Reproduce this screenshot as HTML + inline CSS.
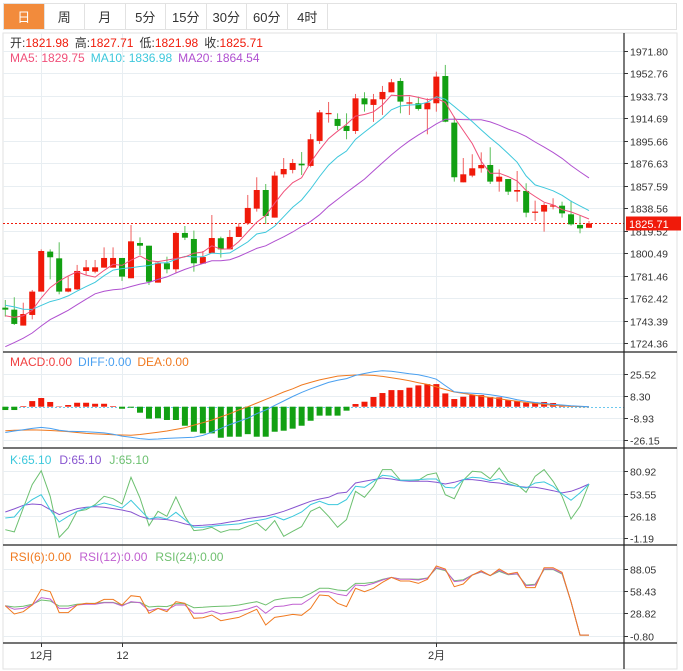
<!DOCTYPE html>
<html><head><meta charset="utf-8"><style>
html,body{margin:0;padding:0;background:#fff;width:683px;height:671px;overflow:hidden;font-family:"Liberation Sans","Noto Sans CJK SC",sans-serif}
#tabs{position:absolute;left:3px;top:3px;width:674px;height:27px;border:1px solid #e2e2e2;box-sizing:border-box;display:flex}
.tab{width:40.5px;height:100%;border-right:1px solid #e2e2e2;font-size:13px;color:#333;display:flex;align-items:center;justify-content:center;box-sizing:border-box}
.tab.on{background:#f28b3c;color:#fff}
svg{position:absolute;left:0;top:0}
</style></head><body>
<div id="tabs">
<div class="tab on">日</div>
<div class="tab">周</div>
<div class="tab">月</div>
<div class="tab">5分</div>
<div class="tab">15分</div>
<div class="tab">30分</div>
<div class="tab">60分</div>
<div class="tab">4时</div>
</div>
<svg id="chart" width="683" height="671" font-family="Liberation Sans, Noto Sans CJK SC, sans-serif">
<g id="grid"></g>
<g id="marks"></g>
<g id="axes"></g>
<g font-size="12">
<text x="10" y="47"><tspan fill="#333">开:</tspan><tspan fill="#f01a0a">1821.98</tspan><tspan fill="#333" dx="6">高:</tspan><tspan fill="#f01a0a">1827.71</tspan><tspan fill="#333" dx="6">低:</tspan><tspan fill="#f01a0a">1821.98</tspan><tspan fill="#333" dx="6">收:</tspan><tspan fill="#f01a0a">1825.71</tspan></text>
<text x="10" y="62"><tspan fill="#f0507a">MA5: 1829.75</tspan><tspan fill="#3ec8dc" dx="6">MA10: 1836.98</tspan><tspan fill="#b050d0" dx="6">MA20: 1864.54</tspan></text>
<text x="10" y="366"><tspan fill="#f04040">MACD:0.00</tspan><tspan fill="#4aa0f0" dx="6">DIFF:0.00</tspan><tspan fill="#f07a20" dx="6">DEA:0.00</tspan></text>
<text x="10" y="464"><tspan fill="#3cc8dc">K:65.10</tspan><tspan fill="#8855d0" dx="8">D:65.10</tspan><tspan fill="#6cc070" dx="8">J:65.10</tspan></text>
<text x="10" y="561"><tspan fill="#f07a20">RSI(6):0.00</tspan><tspan fill="#c060d0" dx="8">RSI(12):0.00</tspan><tspan fill="#70c070" dx="8">RSI(24):0.00</tspan></text>
</g>
</svg>
<script>
const opens=[1754.3,1752.6,1739.1,1748.1,1767.9,1801.8,1796.1,1767.9,1769.8,1785.4,1784.8,1788.2,1788.2,1796.4,1779.2,1809.1,1806.8,1775.5,1791.9,1786.8,1817.6,1812.5,1791.6,1800.4,1813.1,1803.7,1814.2,1825.8,1838.2,1854.0,1830.6,1867.3,1871.0,1876.3,1874.4,1895.6,1918.2,1914.2,1908.3,1904.0,1931.7,1926.1,1930.9,1936.8,1946.4,1927.2,1927.5,1922.4,1927.5,1950.6,1911.1,1860.5,1866.2,1872.4,1875.2,1861.1,1863.3,1852.6,1853.2,1835.1,1835.7,1839.9,1840.7,1833.4,1824.4,1821.98];
const closes=[1752.6,1740.5,1748.9,1767.9,1802.3,1797.0,1767.9,1770.7,1785.4,1788.5,1788.5,1796.4,1796.4,1780.6,1810.5,1806.8,1776.3,1792.4,1786.8,1817.6,1813.6,1791.9,1797.2,1813.3,1803.7,1814.2,1822.9,1838.8,1854.0,1832.0,1866.2,1871.8,1876.9,1874.9,1897.0,1919.8,1919.3,1908.3,1904.0,1931.7,1926.6,1930.9,1937.1,1945.3,1928.9,1928.3,1922.7,1928.0,1950.1,1911.9,1864.8,1867.3,1872.4,1875.2,1861.1,1865.3,1852.6,1854.0,1834.8,1835.7,1841.3,1841.0,1834.2,1824.9,1821.5,1825.71];
const highs=[1760.8,1763.1,1758.5,1769.3,1803.7,1803.7,1809.7,1780.6,1790.5,1794.7,1794.7,1805.4,1805.4,1796.4,1824.4,1813.9,1806.8,1793.3,1797.5,1818.7,1823.5,1819.6,1802.3,1832.8,1814.5,1820.1,1825.8,1849.8,1864.8,1859.1,1869.6,1881.1,1880.3,1886.2,1901.5,1921.8,1928.6,1919.0,1919.0,1935.4,1936.8,1935.4,1942.2,1948.1,1948.9,1933.1,1933.1,1931.7,1954.3,1960.0,1916.2,1881.1,1884.3,1885.9,1890.2,1871.5,1863.3,1870.1,1859.7,1845.0,1843.0,1847.0,1844.1,1845.0,1832.8,1827.71];
const lows=[1746.7,1739.6,1739.1,1744.4,1767.9,1778.3,1765.6,1767.3,1769.3,1782.0,1783.4,1788.2,1788.2,1776.9,1779.2,1798.9,1773.5,1775.5,1783.4,1784.0,1811.6,1784.8,1791.6,1800.4,1796.7,1803.7,1814.2,1824.4,1835.7,1825.2,1830.6,1864.5,1868.1,1866.7,1873.2,1893.0,1911.1,1904.9,1897.0,1901.5,1920.4,1911.7,1917.6,1936.8,1919.0,1917.6,1921.3,1901.2,1920.4,1911.4,1861.1,1860.5,1864.8,1868.7,1859.1,1852.6,1849.8,1844.1,1830.9,1827.8,1818.7,1837.6,1830.6,1823.8,1817.3,1821.98];
const priorCloses=[1670,1675,1680,1683,1688,1690,1692,1690,1695,1697,1755,1768,1770,1768,1765,1748,1742,1745,1750];
const priceTicks=[1971.80,1952.76,1933.73,1914.69,1895.66,1876.63,1857.59,1838.56,1819.52,1800.49,1781.46,1762.42,1743.39,1724.36];
const macdBars=[-2.6,-2.6,0.5,4.4,6.8,3.7,0.3,1.3,3.1,3.1,2.3,2.3,0.5,-1.6,-0.8,-4.7,-9.4,-9.1,-10.4,-10.4,-14.9,-19.6,-20.9,-20.9,-24.3,-23.5,-23.5,-21.5,-23.5,-23.5,-19.6,-18.8,-17.2,-14.9,-11,-7,-7,-7,-3.1,2.1,3.9,7.6,10.7,13.0,13.0,14.9,16.7,17.7,17.7,10.4,6.0,7.8,9.1,9.1,7.6,7.3,5.2,4.4,3.1,3.4,3.7,2.9,1.0,0.2,0,0];
const diffVals=[-20.2,-19,-18,-17,-16.2,-17,-18.5,-19.2,-19.4,-19.6,-20,-20.5,-21.5,-23,-24,-25,-25.6,-25.3,-24.8,-24.5,-24.2,-24,-22.5,-20,-17,-14,-11.5,-9,-5.5,-2.6,1,4.5,8,11.2,14,16.5,19,20.7,22,24.5,26,27.3,28.2,27.8,26.8,25.8,25,23.5,21.5,16.5,11.7,11,10.6,10.2,9.3,8.3,7,5.4,4.2,3.3,2.6,1.8,1.3,0.7,0.3,0];
const deaVals=[-18.8,-18.5,-18.3,-18.2,-18.3,-18.6,-19,-19.5,-20.2,-20.9,-21.3,-21.6,-22,-22.2,-22.3,-21.8,-20.9,-20,-19,-17.8,-16.5,-14.4,-12.5,-10.5,-8,-5.5,-2.6,0,2.8,5.7,8.5,11.5,14,17,19,21,22.5,24,24.4,24.8,24.8,24.5,23.7,22.6,21.6,20.3,18.8,17.5,15.5,13.5,11.5,10.4,9.3,8.2,7.2,6.3,5.2,4.2,3.3,2.6,1.8,1.2,0.6,0.3,0.1,0];
const macdTicks=[25.52,8.30,-8.93,-26.15];
const kVals=[23.7,24.9,38.0,46.2,52.3,33.9,18.8,25.8,31.9,36.0,38.8,42.1,39.3,36.0,45.4,33.9,22.5,24.9,22.5,30.7,21.7,12.3,12.3,13.5,14.7,15.6,16.4,18.8,20.5,22.5,25.8,21.3,25.8,31.1,40.1,44.2,40.1,40.1,46.2,62.5,61.3,68.7,76.0,74.8,69.9,69.9,70.7,71.5,71.5,61.3,60.5,70.7,73.6,72.7,69.5,72.0,65.8,62.5,60.5,66.6,67.9,62.5,53.1,45.4,54.4,65.4];
const dVals=[31.1,34.8,39.3,40.9,40.1,33.9,27.8,31.9,35.2,36.8,37.6,36.8,35.2,33.5,31.1,25.8,22.5,22.5,21.7,19.6,16.4,14.3,14.7,15.6,16.8,18.8,20.5,22.9,24.5,25.8,28.6,31.9,36.0,40.1,44.2,47.0,49.1,54.0,55.2,66.6,68.7,70.7,72.7,71.5,69.5,68.7,68.7,68.7,67.4,65.4,67.4,70.7,70.7,69.5,67.4,66.6,64.6,62.5,61.3,61.3,59.3,57.2,54.4,56.4,60.5,65.4];
const jVals=[9.4,6.6,36.0,64.6,81.7,50.3,0.0,11.5,31.9,33.9,40.1,50.3,47.4,40.9,73.6,48.2,14.3,31.9,25.8,49.5,25.8,8.2,9.4,12.3,6.2,9.4,9.4,13.5,17.6,8.2,20.5,1.3,7.4,13.1,31.9,37.2,25.8,12.3,21.7,56.4,49.1,62.5,83.0,83.0,69.9,69.9,69.9,76.8,78.9,52.3,47.4,69.9,80.9,80.1,71.9,85.0,68.7,64.6,55.2,74.8,83.0,68.7,50.3,22.5,38.0,65.4];
const kdjTicks=[80.92,53.55,26.18,-1.19];
const rsi6=[39.2,28.1,31.2,40.1,60.9,57.8,29.9,29.9,40.1,42.3,41.9,47.6,47.6,40.1,52.5,51.2,29.0,35.6,31.2,44.5,42.3,22.3,23.2,26.7,19.2,21.4,23.6,29.0,34.3,13.4,23.6,25.4,27.6,26.3,35.6,53.4,52.5,42.3,37.9,62.3,57.8,62.3,70.3,76.9,72.1,72.1,68.9,74.3,92.0,88.1,64.5,68.1,80.1,85.8,79.2,88.1,81.4,83.6,63.2,63.2,89.8,89.8,83.6,44.5,0,0];
const rsi12=[39.2,34.3,35.6,40.1,49.9,48.1,35.6,35.6,40.1,41.0,41.0,43.2,43.2,38.7,44.5,43.2,32.5,35.6,33.4,40.1,40.1,29.0,29.0,32.1,28.1,29.9,32.1,34.7,38.7,29.0,37.9,38.7,41.0,41.0,48.9,57.8,57.8,54.3,52.5,66.7,65.8,68.9,73.4,76.9,74.3,74.3,73.4,75.6,89.8,86.7,71.2,72.5,80.1,84.5,79.2,86.3,80.9,81.8,65.8,66.7,88.1,88.1,82.3,44.5,0,0];
const rsi24=[39.2,37.4,38.3,41.0,46.7,45.4,38.7,38.7,41.0,41.9,42.3,43.6,43.6,40.1,43.6,43.6,37.4,38.3,37.9,41.9,41.9,36.5,37.0,37.9,38.3,38.7,40.1,42.3,44.5,40.1,46.7,48.9,49.9,49.9,55.6,62.3,62.3,60.1,59.2,68.9,68.9,70.3,74.3,76.9,74.7,74.7,74.3,76.1,88.9,85.8,72.5,73.8,80.1,84.1,79.2,84.9,80.5,81.4,66.7,67.6,87.2,87.2,81.4,44.5,0,0];
const rsiTicks=[88.05,58.43,28.82,-0.80];
const dateLabels=["12月","12","2月"];
const dateIndex=[4,13,48];
const lastPrice=1825.71;

const NS="http://www.w3.org/2000/svg";
const grid=document.getElementById('grid'),marks=document.getElementById('marks'),axes=document.getElementById('axes');
function mk(tag,attrs,parent){const e=document.createElementNS(NS,tag);for(const k in attrs)e.setAttribute(k,attrs[k]);parent.appendChild(e);return e;}
const X0=5.3,DX=8.98,LEFT=3,RIGHT=624;
const xAt=i=>X0+DX*i;
const yPrice=p=>51+(1971.8-p)*1.18;
const yMacd=v=>406.7-v*1.277;
const yKdj=v=>471.3+(80.92-v)*0.816;
const yRsi=v=>569+(88.05-v)*0.7505;

// frame
let e;
e=mk('rect',{x:3,y:33,width:674,height:636,fill:'none',stroke:'#e2e2e2'},grid);


// panel separators
[352,448,545,643].forEach((y,k)=>{
  e=mk('line',{x1:LEFT,x2:677,y1:y,y2:y,stroke:'#222','stroke-width':1.2},axes);
  
  
});
e=mk('line',{x1:RIGHT,x2:RIGHT,y1:33,y2:669,stroke:'#222','stroke-width':1.2},axes);


// vertical date grid + labels
dateIndex.forEach((idx,k)=>{
  const x=Math.round(xAt(idx))+0.5;
  e=mk('line',{x1:x,x2:x,y1:33,y2:643,stroke:'#e8eef2'},grid);
  
  
  e=mk('line',{x1:x,x2:x,y1:643,y2:647,stroke:'#333'},axes);
  
  
  e=mk('text',{x:x,y:659,'font-size':11,fill:'#333','text-anchor':'middle'},axes);
  e.textContent=dateLabels[k];
  
  
});
function ticks(arr,yf,name){
  arr.forEach(v=>{
    const y=Math.round(yf(v))+0.5;
    e=mk('line',{x1:LEFT,x2:RIGHT,y1:y,y2:y,stroke:'#e8eef2'},grid);
    
    
    e=mk('line',{x1:RIGHT,x2:RIGHT+4,y1:y,y2:y,stroke:'#333'},axes);
    
    
    e=mk('text',{x:RIGHT+6,y:y+4,'font-size':10.5,fill:'#333'},axes);
    e.textContent=v.toFixed(2);
    
    
  });
}
ticks(priceTicks,yPrice,'price');
ticks(macdTicks,yMacd,'macd');
ticks(kdjTicks,yKdj,'kdj');
ticks(rsiTicks,yRsi,'rsi');

// last price line + label
const ly=Math.round(yPrice(lastPrice))+0.5;
e=mk('line',{x1:LEFT,x2:RIGHT,y1:ly,y2:ly,stroke:'#f01a0a','stroke-dasharray':'2,2'},marks);


e=mk('rect',{x:626,y:ly-7,width:55,height:14,fill:'#f01a0a'},axes);


e=mk('text',{x:629,y:ly+4.5,'font-size':11,fill:'#fff'},axes);
e.textContent=lastPrice.toFixed(2);



// candles
const RED='#f01a0a',GREEN='#12a012';
for(let i=0;i<opens.length;i++){
  const up=closes[i]>=opens[i],col=up?RED:GREEN,x=xAt(i);
  e=mk('line',{x1:x,x2:x,y1:yPrice(highs[i]),y2:yPrice(lows[i]),stroke:up?'#f06060':'#5cc05c'},marks);
  
  
  const t=yPrice(Math.max(opens[i],closes[i])),b=yPrice(Math.min(opens[i],closes[i]));
  e=mk('rect',{x:x-3,y:t,width:6,height:Math.max(1.2,b-t),fill:col},marks);
  
  
}
// moving averages
function ma(n){const all=priorCloses.concat(closes),off=priorCloses.length,out=[];
  for(let i=0;i<closes.length;i++){let s=0;for(let j=0;j<n;j++)s+=all[off+i-j];out.push(s/n);}return out;}
function line(vals,yf,color,name){
  const d=vals.map((v,i)=>(i?'L':'M')+xAt(i).toFixed(1)+','+yf(v).toFixed(1)).join('');
  e=mk('path',{d:d,fill:'none',stroke:color,'stroke-width':1},marks);
  
  
}
line(ma(20),yPrice,'#b050d0','ma20-line');
line(ma(10),yPrice,'#3ec8dc','ma10-line');
line(ma(5),yPrice,'#f0507a','ma5-line');

// MACD
const zy=Math.round(yMacd(0))+0.5;
e=mk('line',{x1:LEFT,x2:RIGHT,y1:zy,y2:zy,stroke:'#6cc8ee','stroke-dasharray':'2,2'},marks);


macdBars.forEach((v,i)=>{
  const y0=yMacd(0),y1=yMacd(v);
  e=mk('rect',{x:xAt(i)-3,y:Math.min(y0,y1),width:6,height:Math.abs(y1-y0),fill:v>=0?RED:GREEN},marks);
  
  
});
line(deaVals,yMacd,'#f07a20','dea-line');
line(diffVals,yMacd,'#4aa0f0','diff-line');
// KDJ
line(jVals,yKdj,'#6cc070','j-line');
line(dVals,yKdj,'#8855d0','d-line');
line(kVals,yKdj,'#3cc8dc','k-line');
// RSI
line(rsi24,yRsi,'#70c070','rsi24-line');
line(rsi12,yRsi,'#c060d0','rsi12-line');
line(rsi6,yRsi,'#f07a20','rsi6-line');
</script>
</body></html>
